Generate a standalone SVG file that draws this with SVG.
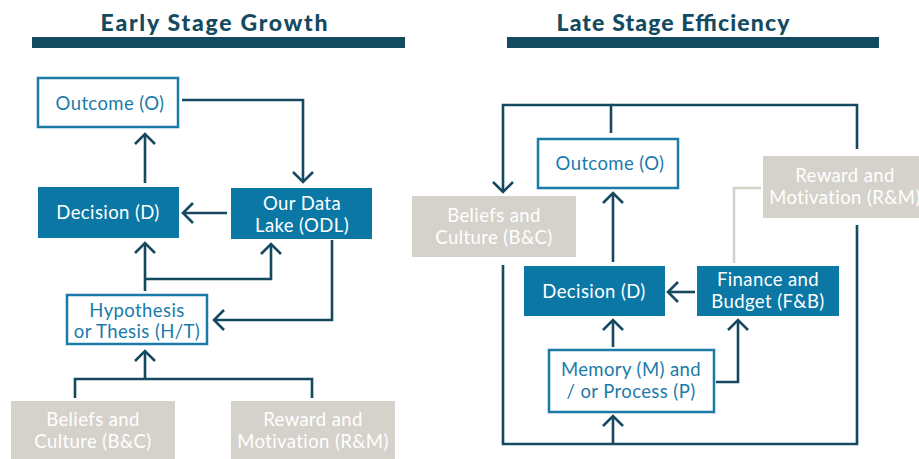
<svg xmlns="http://www.w3.org/2000/svg" width="919" height="459" viewBox="0 0 919 459">
<defs>
<style>
.title{font-family:"Lato","Liberation Sans",sans-serif;font-weight:900;font-size:23px;fill:#134a60;text-anchor:middle}
.bar{fill:#134a60}
.lbl{font-family:"Lato","Liberation Sans",sans-serif;font-size:18.5px;letter-spacing:0.4px;text-anchor:middle}
.outl rect{fill:#fff;stroke:#1a7aa8;stroke-width:2.5}
.outl text{fill:#1a7aa8}
.fill rect{fill:#0a77a5}
.fill text{fill:#fff}
.grey rect{fill:#d5d2cb}
.grey text{fill:#fff}
.con path{fill:none;stroke:#14495f;stroke-width:2.6;stroke-linejoin:miter}
.con path.g{stroke:#d5d2cb}
</style>
<marker id="ah" markerUnits="userSpaceOnUse" markerWidth="30" markerHeight="30" viewBox="-15 -15 30 30" refX="0" refY="0" orient="auto" overflow="visible">
<path d="M-10,-10 L0,0 L-10,10" fill="none" stroke="#14495f" stroke-width="2.6"/>
</marker>
</defs>
<rect width="919" height="459" fill="#fff"/>
<g id="titles">
<text class="title" x="214" y="31" textLength="227" lengthAdjust="spacing">Early Stage Growth</text>
<rect class="bar" x="32" y="37" width="373" height="11"/>
<text class="title" x="673" y="31" textLength="233" lengthAdjust="spacing">Late Stage Efficiency</text>
<rect class="bar" x="507" y="37" width="372" height="11"/>
</g>
<g class="con" id="connectors">
<path d="M182,100 H303 V182" marker-end="url(#ah)"/>
<path d="M145,183 V134" marker-end="url(#ah)"/>
<path d="M227,213 H183" marker-end="url(#ah)"/>
<path d="M145,291 V243" marker-end="url(#ah)"/>
<path d="M145,279 H271 V244" marker-end="url(#ah)"/>
<path d="M332,240 V320 H214" marker-end="url(#ah)"/>
<path d="M145,379 V351" marker-end="url(#ah)"/>
<path d="M75,398 V379 H312 V398"/>
<path d="M611,133 V105 H503 V192" marker-end="url(#ah)"/>
<path d="M611,105 H857 V149"/>
<path d="M857,225 V444 H503 V265"/>
<path d="M613,444 V416" marker-end="url(#ah)"/>
<path d="M613,262 V193" marker-end="url(#ah)"/>
<path d="M695,292 H668" marker-end="url(#ah)"/>
<path d="M613,347 V320" marker-end="url(#ah)"/>
<path d="M716,382 H738 V320" marker-end="url(#ah)"/>
<path class="g" d="M761,188 H734 V263"/>
</g>
<g id="l-outcome" class="outl"><rect x="38" y="78" width="140" height="49"/><text class="lbl" x="110" y="110">Outcome (O)</text></g>
<g id="l-decision" class="fill"><rect x="38" y="187" width="141" height="51"/><text class="lbl" x="108" y="219">Decision (D)</text></g>
<g id="l-odl" class="fill"><rect x="231" y="188" width="141" height="51"/><text class="lbl" x="302" y="210">Our Data</text><text class="lbl" x="302" y="232">Lake (ODL)</text></g>
<g id="l-ht" class="outl"><rect x="67" y="295" width="140" height="49"/><text class="lbl" x="137" y="317">Hypothesis</text><text class="lbl" x="137" y="338">or Thesis (H/T)</text></g>
<g id="l-bc" class="grey"><rect x="11" y="401" width="164" height="58"/><text class="lbl" x="93" y="426">Beliefs and</text><text class="lbl" x="93" y="448">Culture (B&amp;C)</text></g>
<g id="l-rm" class="grey"><rect x="231" y="401" width="164" height="58"/><text class="lbl" x="313" y="426">Reward and</text><text class="lbl" x="313" y="448">Motivation (R&amp;M)</text></g>
<g id="r-outcome" class="outl"><rect x="538" y="139" width="140" height="49"/><text class="lbl" x="610" y="170">Outcome (O)</text></g>
<g id="r-bc" class="grey"><rect x="412" y="196" width="164" height="61"/><text class="lbl" x="494" y="222">Beliefs and</text><text class="lbl" x="494" y="244">Culture (B&amp;C)</text></g>
<g id="r-rm" class="grey"><rect x="763" y="156" width="160" height="62"/><text class="lbl" x="845" y="182">Reward and</text><text class="lbl" x="845" y="204">Motivation (R&amp;M)</text></g>
<g id="r-decision" class="fill"><rect x="524" y="266" width="141" height="50"/><text class="lbl" x="594" y="298">Decision (D)</text></g>
<g id="r-fb" class="fill"><rect x="697" y="266" width="142" height="50"/><text class="lbl" x="768" y="286">Finance and</text><text class="lbl" x="768" y="308">Budget (F&amp;B)</text></g>
<g id="r-mem" class="outl"><rect x="549" y="350" width="165" height="62"/><text class="lbl" x="631" y="376">Memory (M) and</text><text class="lbl" x="631" y="398">/ or Process (P)</text></g>
</svg>
